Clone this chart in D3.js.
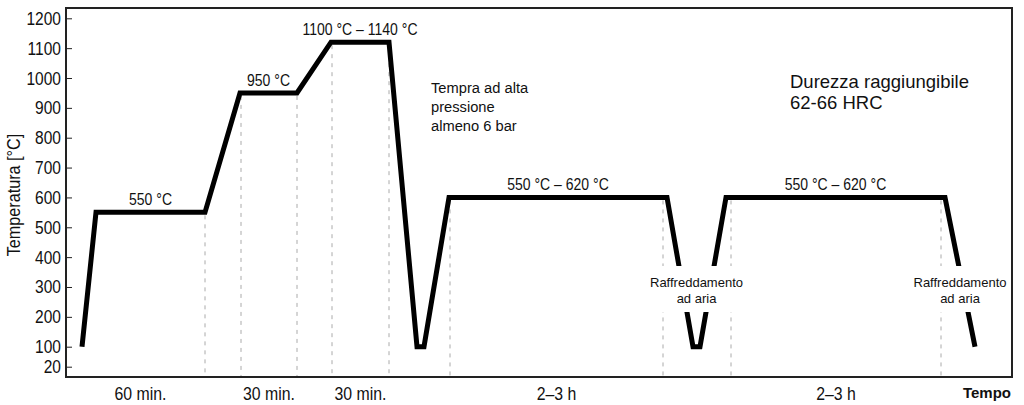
<!DOCTYPE html>
<html><head><meta charset="utf-8">
<script src="https://cdn.jsdelivr.net/npm/d3@7"></script>
<style>body{margin:0;background:#fff}svg{display:block}</style>
</head><body>
<svg id="c" width="1024" height="405"></svg>
<script>
// ---- data ----
const yTicks = [20,100,200,300,400,500,600,700,800,900,1000,1100,1200];
// time in arbitrary schematic units
const profileTime = [16,30,139,174,231,265,323,351,358,383,601,627,634,660,879,909];
const profileTemp = [100,550,550,950,950,1120,1120,100,100,600,600,100,100,600,600,100];
const guideTime = [139,175,231,266,323,384,597,665,875];
const guideTemp = [550,950,950,1120,1120,600,600,600,600];
const plateauLabels = ["550 °C","950 °C","1100 °C – 1140 °C","550 °C – 620 °C","550 °C – 620 °C"];
const plateauIndex = [1,3,5,9,13];
const durationLabels = ["60 min.","30 min.","30 min.","2–3 h","2–3 h"];
const durationStart = [10,175,266,384,665];
const durationEnd = [139,231,323,597,875];
const coolingTime = [630.5,894];
const quenchText = ["Tempra ad alta","pressione","almeno 6 bar"];
const hardnessText = ["Durezza raggiungibile","62-66 HRC"];
const coolingText = ["Raffreddamento","ad aria"];
const yTitle = "Temperatura [°C]";
const xTitle = "Tempo";

// ---- layout ----
const L = 66, R = 1012, T = 8, B = 377;
const arial = "'Liberation Sans',Arial,sans-serif";
const svg = d3.select("#c");
const x = d3.scaleLinear().domain([0, 946]).range([L, R]);
const y = d3.scaleLinear().domain([20, 100, 1200]).range([366.7, 346.7, 18.3]);

function ctext(parent, px, py, s, size, anchor, sx, extra) {
  return parent.append("text")
    .attr("transform", `translate(${px},${py}) ${extra || ""} scale(${sx},1)`)
    .attr("text-anchor", anchor).attr("font-family", arial)
    .attr("font-size", size).attr("fill", "#111").text(s);
}

// guides
const gG = svg.append("g");
guideTime.forEach((t, i) => {
  gG.append("line").attr("x1", x(t)).attr("x2", x(t))
    .attr("y1", y(guideTemp[i]) + 3).attr("y2", B)
    .attr("stroke", "#aaa").attr("stroke-width", 1).attr("stroke-dasharray", "4,5");
});

// profile
const pts = profileTime.map((t, i) => [t, profileTemp[i]]);
svg.append("path").datum(pts)
  .attr("d", d3.line().x(d => x(d[0])).y(d => y(d[1])))
  .attr("fill", "none").attr("stroke", "#000").attr("stroke-width", 5)
  .attr("stroke-linejoin", "miter");

// y axis
const ax = svg.append("g").attr("transform", `translate(${L},0)`)
  .call(d3.axisRight(y).tickValues(yTicks).tickSize(6).tickFormat(""));
ax.select(".domain").remove();
ax.selectAll(".tick line").attr("stroke", "#222");
const yl = svg.append("g");
yTicks.forEach(d => ctext(yl, L - 5, y(d) + 6.5, d, 18.5, "end", 0.84));

// frame
svg.append("rect").attr("x", L).attr("y", T).attr("width", R - L).attr("height", B - T)
  .attr("fill", "none").attr("stroke", "#222").attr("stroke-width", 2);

// plateau labels
plateauLabels.forEach((s, i) => {
  const k = plateauIndex[i];
  ctext(svg, (x(profileTime[k]) + x(profileTime[k + 1])) / 2, y(profileTemp[k]) - 7, s, 16.3, "middle", 0.86);
});

// duration labels
durationLabels.forEach((s, i) => {
  ctext(svg, (x(durationStart[i]) + x(durationEnd[i])) / 2, 400, s, 18, "middle", 0.88);
});

// cooling labels with white background
coolingTime.forEach(t => {
  const g = svg.append("g");
  const bg = g.append("rect").attr("fill", "#fff");
  const tx = g.append("text").attr("text-anchor", "middle")
    .attr("font-family", arial).attr("font-size", 13).attr("fill", "#111");
  coolingText.forEach((s, j) => tx.append("tspan").attr("x", x(t)).attr("y", 286.5 + j * 16.5).text(s));
  const bb = tx.node().getBBox();
  bg.attr("x", bb.x - 2).attr("width", bb.width + 4).attr("y", 266).attr("height", 46);
});

// quench note
const q = svg.append("text").attr("font-family", arial).attr("font-size", 14.7).attr("fill", "#111");
quenchText.forEach((s, j) => q.append("tspan").attr("x", 431).attr("y", 93 + j * 19.2).text(s));

// hardness note
const h = svg.append("text").attr("font-family", arial).attr("font-size", 18.5).attr("fill", "#111");
hardnessText.forEach((s, j) => h.append("tspan").attr("x", 790).attr("y", 88 + j * 20.5).text(s));

// axis titles
ctext(svg, 20, 195, yTitle, 18, "middle", 0.9, "rotate(-90)");
svg.append("text").attr("x", 1011).attr("y", 398).attr("text-anchor", "end")
  .attr("font-family", arial).attr("font-weight", "bold").attr("font-size", 15)
  .attr("fill", "#111").text(xTitle);
</script>
</body></html>
